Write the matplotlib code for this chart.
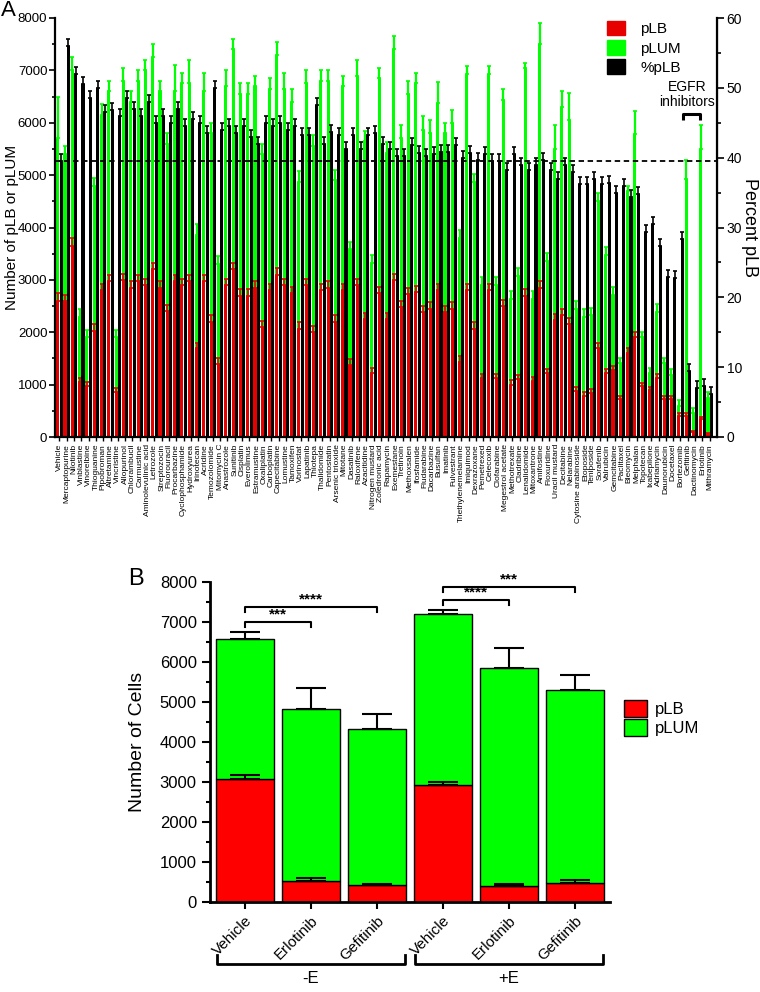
import numpy as np
import matplotlib
matplotlib.use('Agg')
import matplotlib.pyplot as plt
from matplotlib.patches import Patch
from matplotlib.ticker import MultipleLocator
import matplotlib.transforms as mtransforms

plt.rcParams['font.family'] = ['Liberation Sans', 'DejaVu Sans']

# ---------------- Panel A data ----------------
drugs = ["Vehicle", "Mercaptopurine", "Nilotinib", "Vinblastine", "Vinorelbine", "Thioguanine",
         "Pipobroman", "Altretamine", "Vincristine", "Allopurinol", "Chlorambucil", "Carmustine",
         "Aminolevulinic acid", "Letrozole", "Streptozocin", "Fluorouracil", "Procarbazine",
         "Cyclophosphamide", "Hydroxyurea", "Irinotecan", "Acridine", "Temozolomide", "Mitomycin C",
         "Anastrozole", "Sunitinib", "Cisplatin", "Everolimus", "Estramustine", "Oxaliplatin",
         "Carboplatin", "Capecitabine", "Lomustine", "Tamoxifen", "Vorinostat", "Lapatinib",
         "Thiotepa", "Thalidomide", "Pentostatin", "Arsenic trioxide", "Mitotane", "Dasatinib",
         "Raloxifene", "Azacitidine", "Nitrogen mustard", "Zoledronic acid", "Rapamycin",
         "Exemestane", "Tretinoin", "Methoxsalen", "Ifosfamide", "Fludarabine", "Dacarbazine",
         "Busulfan", "Imatinib", "Fulvestrant", "Triethylenemelamine", "Imiquimod", "Dexrazoxane",
         "Pemetrexed", "Celecoxib", "Clofarabine", "Megestrol acetate", "Methotrexate", "Cladribine",
         "Lenalidomide", "Mitoxantrone", "Amifostine", "Floxuridine", "Uracil mustard", "Decitabine",
         "Nelarabine", "Cytosine arabinoside", "Etoposide", "Teniposide", "Sorafenib", "Valrubicin",
         "Gemcitabine", "Paclitaxel", "Bleomycin", "Melphalan", "Topotecan", "Ixabepilone",
         "Adriamycin", "Daunorubicin", "Docetaxel", "Bortezomib", "Gefitinib", "Dactinomycin",
         "Erlotinib", "Mithramycin"]

pLB = [2600, 2600, 3650, 1050, 970, 2030, 2800, 2980, 850, 3000, 2850, 2980, 2900, 3200, 2850,
       2400, 2980, 2900, 2980, 1700, 2980, 2200, 1400, 2900, 3200, 2700, 2700, 2850, 2100, 2800,
       3100, 2900, 2750, 2070, 2900, 2000, 2800, 2850, 2200, 2800, 1380, 2900, 2250, 1220, 2750,
       2250, 3000, 2480, 2730, 2760, 2380, 2450, 2800, 2380, 2450, 1440, 2800, 2070, 1130, 2800,
       1130, 2500, 1000, 1100, 2700, 1060, 2850, 1220, 2230, 2320, 2160, 870, 780, 840, 1690,
       1220, 1280, 720, 1600, 1900, 970, 900, 1130, 720, 720, 400, 400, 90, 340, 60]

pLB_err = [150, 120, 150, 80, 80, 120, 120, 120, 80, 120, 120, 120, 120, 120, 120,
           120, 120, 120, 120, 100, 120, 120, 100, 120, 120, 120, 120, 120, 120, 120,
           120, 120, 120, 120, 120, 120, 120, 120, 120, 120, 100, 120, 120, 100, 120,
           120, 120, 120, 120, 120, 120, 120, 120, 120, 120, 100, 120, 120, 80, 120,
           80, 120, 80, 80, 120, 80, 120, 80, 120, 120, 120, 80, 80, 80, 100,
           80, 80, 60, 100, 100, 60, 60, 80, 60, 60, 50, 60, 30, 50, 20]

# top of the stacked bar (pLB + pLUM)
stack_top = [5700, 5400, 7000, 2300, 1900, 4800, 6150, 6600, 1900, 6800, 6400, 6800, 7000, 7250, 6600,
             5600, 6600, 6750, 6750, 3860, 6600, 5800, 3300, 6700, 7400, 6550, 6550, 6700, 5400, 6650,
             7300, 6650, 6400, 4870, 6750, 5560, 6800, 6800, 4900, 6700, 3580, 6900, 5650, 3330, 6850,
             5430, 7400, 5700, 6550, 6750, 5870, 5800, 6380, 5800, 6000, 3800, 6940, 4870, 2900, 6940,
             2900, 6440, 2630, 3070, 7040, 2630, 7500, 3360, 5500, 6300, 6060, 2450, 2290, 2320, 4500,
             3480, 2720, 1410, 4700, 5780, 1900, 1220, 2380, 1410, 1190, 600, 4930, 450, 5500, 750]

pLUM_err = [800, 150, 250, 150, 150, 150, 200, 200, 150, 250, 200, 200, 200, 250, 200,
            200, 500, 200, 450, 200, 350, 200, 150, 300, 200, 200, 200, 200, 200, 200,
            250, 300, 250, 200, 250, 200, 200, 200, 200, 200, 150, 300, 200, 150, 200,
            200, 250, 250, 250, 200, 250, 250, 400, 200, 250, 150, 150, 150, 150, 150,
            150, 200, 150, 150, 100, 150, 400, 150, 450, 300, 500, 150, 150, 150, 150,
            150, 150, 100, 100, 450, 100, 100, 150, 100, 100, 100, 350, 100, 450, 100]

pct_pLB = [39.5, 56, 52, 50.5, 48.5, 50, 46.5, 46.8, 46, 48.5, 47, 46, 48, 45, 46,
           45, 47, 44.5, 45.5, 45, 43.5, 50, 44, 44.5, 43.5, 44.5, 43, 42, 45, 44.5,
           45, 44, 44.5, 43.3, 43.3, 47.5, 42, 43.7, 43.3, 41.2, 43.3, 41.3, 43.3, 43.5, 42,
           41.2, 40.2, 40.2, 41.8, 40.7, 40.2, 40.5, 40.8, 40.8, 41.8, 40, 40.7, 39.7, 40.5, 39.5,
           39.5, 38.3, 40.5, 39, 38.3, 39, 39.7, 38.3, 37, 39, 37.9, 36.2, 36.2, 36.9, 36.2,
           36.4, 35, 36, 34.3, 34.8, 29.3, 30.5, 27.4, 22.9, 22.7, 28.4, 9.4, 7, 7.3, 6.2]
pct_err = [1.0] * len(drugs)

vehicle_pct_line = 39.5

# ---------------- Panel B data ----------------
b_labels = ["Vehicle", "Erlotinib", "Gefitinib", "Vehicle", "Erlotinib", "Gefitinib"]
b_pLB = [3080, 530, 420, 2930, 400, 470]
b_pLB_err = [100, 80, 30, 80, 50, 80]
b_top = [6580, 4820, 4330, 7200, 5850, 5300]
b_top_err = [170, 520, 370, 90, 500, 380]
b_groups = ["-E", "+E"]

RED_A = '#E60000'
GREEN = '#00FF00'

fig = plt.figure(figsize=(7.6, 9.92), dpi=100)

# ================= Panel A =================
axA = fig.add_axes([55/760, 1-437/992, (717-55)/760, (437-18)/992])
x = np.arange(len(drugs))
w = 0.42
off = 0.23
pLB_a = np.array(pLB)
top_a = np.array(stack_top)
axA.bar(x - off, pLB_a, w, color=RED_A, zorder=2)
axA.bar(x - off, top_a - pLB_a, w, bottom=pLB_a, color=GREEN, zorder=2)
axA.errorbar(x - off, top_a, yerr=[np.zeros(len(x)), pLUM_err], fmt='none',
             ecolor=GREEN, elinewidth=1.6, capsize=1.2, capthick=1.2, zorder=3)
axA.errorbar(x - off, pLB_a, yerr=[np.zeros(len(x)), pLB_err], fmt='none',
             ecolor=RED_A, elinewidth=1.2, capsize=1.2, capthick=1.2, zorder=3)
axA.set_xlim(-0.6, 90.0)
axA.set_ylim(0, 8000)
axA.yaxis.set_major_locator(MultipleLocator(1000))
axA.yaxis.set_minor_locator(MultipleLocator(500))
axA.set_xticks(x)
axA.set_xticklabels(drugs, rotation=90, fontsize=6)
axA.tick_params(axis='x', length=3, width=1, pad=2)
axA.tick_params(axis='y', labelsize=9.5, width=1.2, length=4, pad=1.5)
axA.tick_params(axis='y', which='minor', width=1.2, length=2.5)
for s in ['left', 'bottom']:
    axA.spines[s].set_linewidth(1.6)
axA.spines['top'].set_visible(False)
axA.set_ylabel('Number of pLB or pLUM', fontsize=11)
axA.yaxis.set_label_coords(-0.0545, 0.5)

axR = axA.twinx()
axR.bar(x + off, pct_pLB, w, color='black', zorder=2)
axR.errorbar(x + off, pct_pLB, yerr=[np.zeros(len(x)), pct_err], fmt='none',
             ecolor='black', elinewidth=1.2, capsize=1.2, capthick=1.2, zorder=3)
axR.axhline(vehicle_pct_line, color='black', lw=1.3, ls=(0, (3, 2)), zorder=4)
axR.set_ylim(0, 60)
axR.yaxis.set_major_locator(MultipleLocator(10))
axR.yaxis.set_minor_locator(MultipleLocator(5))
axR.tick_params(axis='y', labelsize=10, width=1.2, length=5, pad=2)
axR.tick_params(axis='y', which='minor', width=1.2, length=3)
axR.spines['right'].set_linewidth(1.6)
axR.spines['top'].set_visible(False)
axR.spines['left'].set_visible(False)
axR.spines['bottom'].set_visible(False)
axR.set_ylabel('Percent pLB', fontsize=13, rotation=270, va='bottom')
axR.yaxis.set_label_coords(1.036, 0.5)

# EGFR inhibitors annotation
gi = drugs.index('Gefitinib')
ei = drugs.index('Erlotinib')
bx0, bx1 = gi - off - 0.45, ei - off - 0.1
axA.plot([bx0, bx0, bx1, bx1], [6060, 6160, 6160, 6060], color='black', lw=2.2, zorder=5,
         solid_capstyle='butt')
axA.text((bx0 + bx1) / 2 - 0.6, 6260, 'EGFR\ninhibitors', ha='center', va='bottom',
         fontsize=10, linespacing=1.1)

fig.legend(handles=[Patch(color=RED_A, label='pLB'), Patch(color=GREEN, label='pLUM'),
                    Patch(color='black', label='%pLB')],
           loc='upper left', bbox_to_anchor=(596/760, 1 - 10/992), frameon=False,
           fontsize=11, handlelength=1.2, handleheight=1.1, labelspacing=0.25,
           handletextpad=1.0, borderpad=0.2)

fig.text(1/760, 1 - 0/992, 'A', fontsize=16, va='top', ha='left')

# ================= Panel B =================
axB = fig.add_axes([210/760, 1-902/992, 400/760, 320/992])
xb = np.arange(len(b_labels))
bw = 0.88
bp = np.array(b_pLB)
bt = np.array(b_top)
axB.bar(xb, bp, bw, color='#FF0000', edgecolor='black', lw=1.0, zorder=2)
axB.bar(xb, bt - bp, bw, bottom=bp, color=GREEN, edgecolor='black', lw=1.0, zorder=2)
axB.errorbar(xb, bt, yerr=[np.zeros(6), b_top_err], fmt='none', ecolor='black',
             elinewidth=1.5, capsize=11, capthick=1.5, zorder=3)
axB.errorbar(xb, bp, yerr=[np.zeros(6), b_pLB_err], fmt='none', ecolor='black',
             elinewidth=1.5, capsize=11, capthick=1.5, zorder=3)
axB.set_xlim(-0.53, 5.53)
axB.set_ylim(0, 8000)
axB.yaxis.set_major_locator(MultipleLocator(1000))
axB.yaxis.set_minor_locator(MultipleLocator(500))
axB.set_xticks(xb)
axB.set_xticklabels(b_labels, rotation=45, ha='right', rotation_mode='anchor', fontsize=11)
axB.tick_params(axis='x', length=5, width=1.5)
axB.tick_params(axis='y', labelsize=12, width=1.5, length=6)
axB.tick_params(axis='y', which='minor', width=1.5, length=3)
for s in ['left', 'bottom']:
    axB.spines[s].set_linewidth(2)
for s in ['top', 'right']:
    axB.spines[s].set_visible(False)
axB.set_ylabel('Number of Cells', fontsize=14)
axB.yaxis.set_label_coords(-0.16, 0.5)

def sig(ax, x0, x1, y, txt):
    ax.plot([x0, x0, x1, x1], [y - 130, y, y, y - 130], color='black', lw=1.5,
            clip_on=False, zorder=5)
    ax.text((x0 + x1) / 2, y + 20, txt, ha='center', va='bottom', fontsize=11,
            fontweight='bold', clip_on=False)

sig(axB, 0, 1, 7000, '***')
sig(axB, 0, 2, 7375, '****')
sig(axB, 3, 4, 7550, '****')
sig(axB, 3, 5, 7875, '***')

trB = mtransforms.blended_transform_factory(axB.transData, axB.transAxes)
for gi_, (g0, g1) in enumerate([(-0.42, 2.42), (2.58, 5.42)]):
    yb = -0.195
    axB.plot([g0, g0, g1, g1], [yb + 0.03, yb, yb, yb + 0.03], color='black', lw=2,
             transform=trB, clip_on=False)
    axB.text((g0 + g1) / 2, yb - 0.02, b_groups[gi_], ha='center', va='top',
             fontsize=12, transform=trB)

fig.legend(handles=[Patch(facecolor='#FF0000', edgecolor='black', label='pLB'),
                    Patch(facecolor=GREEN, edgecolor='black', label='pLUM')],
           loc='upper left', bbox_to_anchor=(612/760, 1 - 688/992), frameon=False,
           fontsize=12, handlelength=1.4, handleheight=1.2, labelspacing=0.15,
           handletextpad=0.5, borderpad=0.2)

fig.text(128/760, 1 - 568/992, 'B', fontsize=17, va='top', ha='left')

fig.savefig('out.png', dpi=100)
